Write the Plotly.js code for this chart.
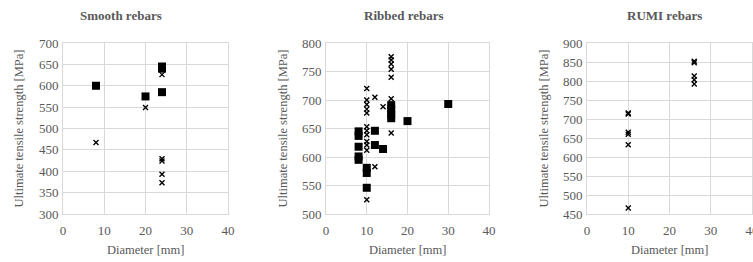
<!DOCTYPE html>
<html>
<head>
<meta charset="utf-8">
<script src="https://cdn.plot.ly/plotly-3.0.1.min.js"></script>
<style>html,body{margin:0;padding:0;background:#fff;}#chart{width:753px;height:262px;}</style>
</head>
<body>
<div id="chart"></div>
<script>
// Smooth rebars
const smoothSqX = [8, 20, 24, 24, 24];
const smoothSqY = [600, 575, 645, 640, 585];
const smoothXX = [8, 20, 24, 24, 24, 24, 24];
const smoothXY = [467, 549, 626, 429, 424, 393, 373];
// Ribbed rebars
const ribSqX = [8, 8, 8, 8, 8, 10, 10, 10, 12, 12, 14, 16, 16, 16, 16, 20, 30];
const ribSqY = [645, 637, 618, 601, 595, 581, 572, 546, 646, 621, 614, 691, 683, 675, 668, 663, 693];
const ribXX = [10, 10, 10, 10, 10, 10, 10, 10, 10, 10, 10, 10, 12, 12, 14, 16, 16, 16, 16, 16, 16, 16];
const ribXY = [720, 700, 692, 684, 677, 653, 646, 639, 627, 621, 612, 525, 705, 583, 688, 776, 770, 763, 754, 740, 702, 642];
// RUMI rebars
const rumiXX = [10, 10, 10, 10, 10, 10, 26, 26, 26, 26, 26];
const rumiXY = [716, 713, 665, 660, 632, 466, 852, 848, 813, 803, 792];

const titles = ["Smooth rebars", "Ribbed rebars", "RUMI rebars"];
const xTitle = "Diameter [mm]";
const yTitle = "Ultimate tensile strength [MPa]";

const W = 753, H = 262;
const px = [[63, 228], [326, 489], [587, 752]];
const titleX = [121, 404, 664];
const yTitleX = [18, 282, 543];
const yTop = 43, yBot = 214;
const yRanges = [[300, 700], [500, 800], [450, 900]];
const font = "Liberation Serif";
const gray = "#595959";
const grid = "#d9d9d9";

const sqMarker = {symbol: "square", size: 8, color: "#000"};
const xMarker = {symbol: "x-thin-open", size: 5, color: "#000", line: {width: 1.4, color: "#000"}};

const traces = [
  {x: smoothSqX, y: smoothSqY, xaxis: "x", yaxis: "y", mode: "markers", type: "scatter", marker: sqMarker},
  {x: smoothXX, y: smoothXY, xaxis: "x", yaxis: "y", mode: "markers", type: "scatter", marker: xMarker},
  {x: ribSqX, y: ribSqY, xaxis: "x2", yaxis: "y2", mode: "markers", type: "scatter", marker: sqMarker},
  {x: ribXX, y: ribXY, xaxis: "x2", yaxis: "y2", mode: "markers", type: "scatter", marker: xMarker},
  {x: rumiXX, y: rumiXY, xaxis: "x3", yaxis: "y3", mode: "markers", type: "scatter", marker: xMarker}
];

const layout = {
  width: W, height: H,
  margin: {l: 0, r: 0, t: 0, b: 0},
  paper_bgcolor: "#fff", plot_bgcolor: "#fff",
  showlegend: false,
  font: {family: font, size: 13, color: gray},
  annotations: []
};

const yDom = [1 - yBot / H, 1 - yTop / H];
for (let i = 0; i < 3; i++) {
  const s = i === 0 ? "" : String(i + 1);
  const xd = [px[i][0] / W, px[i][1] / W];
  layout["xaxis" + s] = {
    domain: xd, range: [0, 40], dtick: 10, tick0: 0,
    anchor: "y" + s, showgrid: true, gridcolor: grid, gridwidth: 1,
    zeroline: false, showline: true, linecolor: grid, mirror: true,
    ticks: "", ticklabelstandoff: 4, ticklabeloverflow: "allow",
    tickfont: {family: font, size: 13, color: gray}, fixedrange: true
  };
  layout["yaxis" + s] = {
    domain: yDom, range: yRanges[i], dtick: 50,
    anchor: "x" + s, showgrid: true, gridcolor: grid, gridwidth: 1,
    zeroline: false, showline: true, linecolor: grid, mirror: true,
    ticks: "", ticklabelstandoff: 1,
    tickfont: {family: font, size: 13, color: gray}, fixedrange: true
  };
  const cx = (px[i][0] + px[i][1]) / 2;
  layout.annotations.push({
    text: "<b>" + titles[i] + "</b>", xref: "paper", yref: "paper",
    x: titleX[i] / W, y: 1 - 15 / H, xanchor: "center", yanchor: "middle", showarrow: false,
    font: {family: font, size: 13, color: gray}
  });
  layout.annotations.push({
    text: xTitle, xref: "paper", yref: "paper",
    x: cx / W, y: 1 - 250 / H, xanchor: "center", yanchor: "middle", showarrow: false,
    font: {family: font, size: 12.5, color: gray}
  });
  layout.annotations.push({
    text: yTitle, xref: "paper", yref: "paper",
    x: yTitleX[i] / W, y: 1 - ((yTop + yBot) / 2) / H, xanchor: "center", yanchor: "middle",
    showarrow: false, textangle: -90,
    font: {family: font, size: 12.5, color: gray}
  });
}

Plotly.newPlot("chart", traces, layout, {displayModeBar: false, staticPlot: true});
</script>
</body>
</html>
